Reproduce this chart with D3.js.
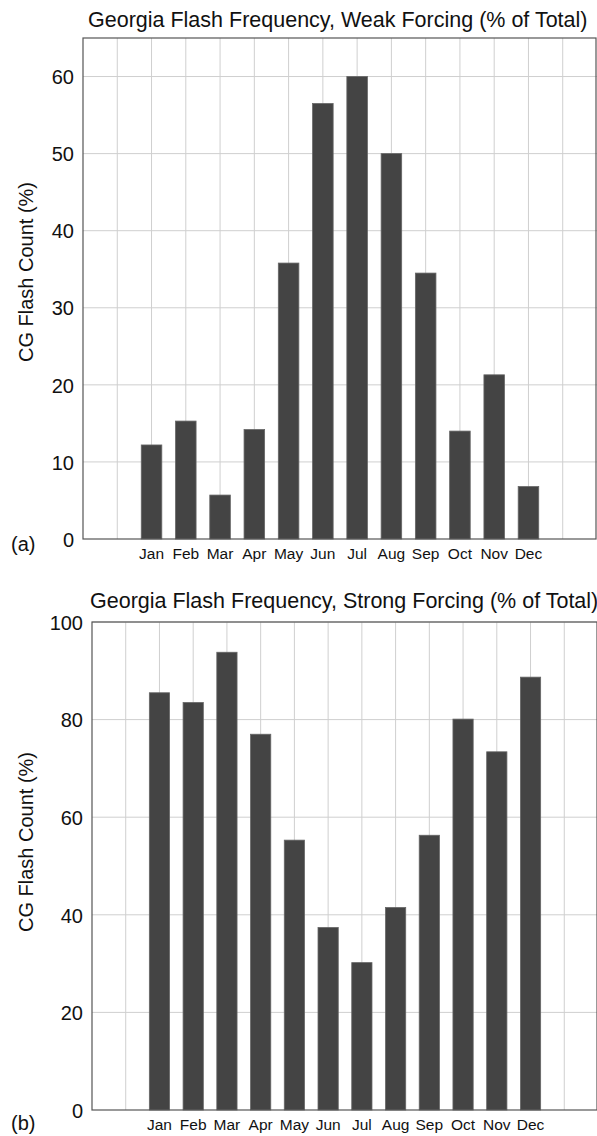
<!DOCTYPE html>
<meta charset="utf-8">
<style>
body { margin: 0; background: #fff; }
svg text { font-family: "Liberation Sans", Arial, Helvetica, sans-serif; fill: #111; }
.grid line { stroke: #cfcfcf; stroke-width: 1px; }
.frame { fill: none; stroke: #555; stroke-width: 1.2px; }
.bar { fill: #444; stroke: #666; stroke-width: 0.8px; }
</style>
<body>
<script src="https://cdn.jsdelivr.net/npm/d3@7"></script>
<script>

// data
var months = ["Jan", "Feb", "Mar", "Apr", "May", "Jun", "Jul", "Aug", "Sep", "Oct", "Nov", "Dec"];
var weakValues = [12.2, 15.3, 5.7, 14.2, 35.8, 56.5, 60.0, 50.0, 34.5, 14.0, 21.3, 6.8];
var strongValues = [85.5, 83.5, 93.8, 77.0, 55.3, 37.4, 30.2, 41.5, 56.3, 80.1, 73.4, 88.7];
var weakTicks = [0, 10, 20, 30, 40, 50, 60];
var strongTicks = [0, 20, 40, 60, 80, 100];

var W = 597, H = 1136;

var svg = d3.select("body").append("svg")
    .attr("width", W)
    .attr("height", H);

function drawPanel(cfg) {
    // slots 0..15, months sit on slots 2..13
    var x = d3.scaleLinear().domain([0, 15]).range([cfg.left, cfg.right]);
    var y = d3.scaleLinear().domain([0, cfg.yMax]).range([cfg.bottom, cfg.top]);
    var bw = (x(1) - x(0)) * 0.6;

    var g = svg.append("g");

    // grid
    var grid = g.append("g").attr("class", "grid");
    grid.selectAll(".v")
        .data(d3.range(1, 15))
      .enter().append("line")
        .attr("x1", function(d) { return x(d); })
        .attr("x2", function(d) { return x(d); })
        .attr("y1", cfg.top)
        .attr("y2", cfg.bottom);
    grid.selectAll(".h")
        .data(cfg.ticks.slice(1))
      .enter().append("line")
        .attr("x1", cfg.left)
        .attr("x2", cfg.right)
        .attr("y1", function(d) { return y(d); })
        .attr("y2", function(d) { return y(d); });

    // bars
    g.selectAll(".bar")
        .data(cfg.values)
      .enter().append("rect")
        .attr("class", "bar")
        .attr("x", function(d, i) { return x(i + 2) - bw / 2; })
        .attr("width", bw)
        .attr("y", function(d) { return y(d); })
        .attr("height", function(d) { return y(0) - y(d); });

    // frame
    g.append("rect")
        .attr("class", "frame")
        .attr("x", cfg.left)
        .attr("y", cfg.top)
        .attr("width", cfg.right - cfg.left - 1)
        .attr("height", cfg.bottom - cfg.top);

    // y tick labels
    var yAxis = d3.axisLeft(y).tickValues(cfg.ticks).tickSize(0).tickPadding(9);
    var ya = g.append("g")
        .attr("transform", "translate(" + cfg.left + ",0)")
        .call(yAxis);
    ya.select(".domain").remove();
    ya.selectAll("text")
        .style("font-size", "20px")
        .attr("dy", "0.36em");

    // month labels
    g.selectAll(".month")
        .data(months)
      .enter().append("text")
        .attr("x", function(d, i) { return x(i + 2); })
        .attr("y", cfg.bottom + 20)
        .attr("text-anchor", "middle")
        .style("font-size", "15.5px")
        .text(function(d) { return d; });

    // title
    g.append("text")
        .attr("x", cfg.titleX)
        .attr("y", cfg.titleY)
        .style("font-size", "21.5px")
        .text(cfg.title);

    // y label
    g.append("text")
        .attr("transform", "translate(33," + cfg.labelY + ") rotate(-90)")
        .attr("text-anchor", "middle")
        .style("font-size", "20px")
        .text("CG Flash Count (%)");

    // panel letter
    g.append("text")
        .attr("x", 11)
        .attr("y", cfg.letterY)
        .style("font-size", "20px")
        .text(cfg.letter);
}

drawPanel({
    values: weakValues, ticks: weakTicks, yMax: 65,
    left: 83, right: 597, top: 38, bottom: 539,
    title: "Georgia Flash Frequency, Weak Forcing (% of Total)",
    titleX: 88, titleY: 27, labelY: 272, letter: "(a)", letterY: 551
});

drawPanel({
    values: strongValues, ticks: strongTicks, yMax: 100,
    left: 92, right: 598, top: 622, bottom: 1110,
    title: "Georgia Flash Frequency, Strong Forcing (% of Total)",
    titleX: 90, titleY: 608, labelY: 842, letter: "(b)", letterY: 1130
});
</script>
</body>
